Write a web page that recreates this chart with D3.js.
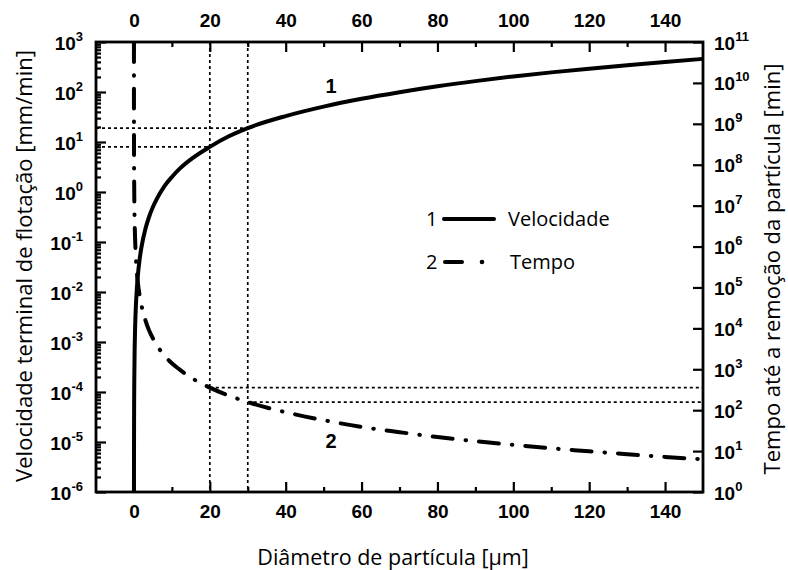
<!DOCTYPE html>
<html>
<head>
<meta charset="utf-8">
<script src="https://cdn.jsdelivr.net/npm/d3@7"></script>
<style>
  body { margin: 0; background: #fff; }
  svg { display: block; }
</style>
</head>
<body>
<svg id="chart" width="788" height="570"></svg>
<script>
// Particle diameter axis (µm)
const diameterDomain = [-10, 150];
const diameterMajorTicks = [0, 20, 40, 60, 80, 100, 120, 140];
const diameterMinorTicks = [10, 30, 50, 70, 90, 110, 130];

// Left axis: terminal flotation velocity (mm/min), log scale
const velocityDomain = [1e-6, 1e3];
const velocityExponents = [-6, -5, -4, -3, -2, -1, 0, 1, 2, 3];

// Right axis: time until particle removal (min), log scale
const timeDomain = [1, 1e11];
const timeExponents = [0, 1, 2, 3, 4, 5, 6, 7, 8, 9, 10, 11];

// Curve 1 — velocity vs. diameter
const velocityDiameter = [0.007, 0.01, 0.02, 0.05, 0.1, 0.2, 0.3, 0.5, 0.75, 1, 1.5, 2, 3, 4, 5, 6, 8, 10, 12, 15, 20, 25, 30, 40, 50, 60, 70, 80, 90, 100, 110, 120, 130, 140, 150];
const velocity = [1e-6, 2e-6, 8e-6, 5e-5, 2e-4, 8e-4, 1.8e-3, 5e-3, 1.1e-2, 0.02, 0.045, 0.08, 0.18, 0.32, 0.5, 0.72, 1.3, 2, 2.9, 4.5, 8, 13, 19, 33, 51, 73, 99, 130, 165, 205, 247, 293, 344, 398, 460];

// Curve 2 — removal time vs. diameter
const timeDiameter = [0.0012, 0.005, 0.01, 0.02, 0.05, 0.1, 0.2, 0.3, 0.5, 0.75, 1, 1.5, 2, 3, 4, 5, 6, 8, 10, 12, 15, 20, 25, 30, 40, 50, 60, 70, 80, 90, 100, 110, 120, 130, 140, 150];
const time = [1e11, 5.7e9, 1.4e9, 3.6e8, 5.7e7, 1.4e7, 3.6e6, 1.6e6, 5.7e5, 2.5e5, 1.4e5, 6.3e4, 3.6e4, 1.6e4, 8.9e3, 5.7e3, 3.9e3, 2.2e3, 1.4e3, 990, 630, 355, 227, 158, 89, 57, 39, 29, 22, 17.5, 14.2, 11.7, 9.9, 8.4, 7.2, 6.3];

// Reference diameters with their velocity and time readings
const guideDiameter = [20, 30];
const guideVelocity = [8, 19];
const guideTime = [355, 158];

// Texts
const xTitle = "Diâmetro de partícula [µm]";
const yLeftTitle = "Velocidade terminal de flotação [mm/min]";
const yRightTitle = "Tempo até a remoção da partícula [min]";
const legendNumbers = ["1", "2"];
const legendNames = ["Velocidade", "Tempo"];

const W = 788, H = 570;
const plot = { left: 96, right: 703, top: 42, bottom: 492 };

const svg = d3.select("#chart");
const tickFont = "'Liberation Sans', Arial, sans-serif";
const textFont = "'Open Sans', 'Noto Sans', sans-serif";

const x = d3.scaleLinear().domain(diameterDomain).range([plot.left, plot.right]);
const yL = d3.scaleLog().domain(velocityDomain).range([plot.bottom, plot.top]);
const yR = d3.scaleLog().domain(timeDomain).range([plot.bottom, plot.top]);

const isPow10 = v => Math.abs(Math.log10(v) - Math.round(Math.log10(v))) < 1e-9;
const leftMinor = yL.ticks().filter(v => !isPow10(v));
const rightMinor = yR.ticks().filter(v => !isPow10(v));

svg.append("defs").append("clipPath").attr("id", "plotClip")
  .append("rect")
  .attr("x", plot.left).attr("y", plot.top)
  .attr("width", plot.right - plot.left).attr("height", plot.bottom - plot.top);

// Guide lines (dotted)
const guides = svg.append("g")
  .attr("fill", "none").attr("stroke", "#000")
  .attr("stroke-width", 1.7).attr("stroke-dasharray", "3,3");
guideDiameter.forEach((d, i) => {
  guides.append("line")
    .attr("x1", x(d)).attr("x2", x(d))
    .attr("y1", plot.top).attr("y2", plot.bottom);
  guides.append("line")
    .attr("x1", plot.left).attr("x2", x(d))
    .attr("y1", yL(guideVelocity[i])).attr("y2", yL(guideVelocity[i]));
  guides.append("line")
    .attr("x1", x(d)).attr("x2", plot.right)
    .attr("y1", yR(guideTime[i])).attr("y2", yR(guideTime[i]));
});

// Curves
const curves = svg.append("g").attr("clip-path", "url(#plotClip)");
const velocityLine = d3.line()
  .x(d => x(d[0])).y(d => yL(d[1]))
  .curve(d3.curveMonotoneX);
const timeLine = d3.line()
  .x(d => x(d[0])).y(d => yR(d[1]))
  .curve(d3.curveMonotoneX);

curves.append("path")
  .datum(velocityDiameter.map((d, i) => [d, velocity[i]]))
  .attr("d", velocityLine)
  .attr("fill", "none").attr("stroke", "#000")
  .attr("stroke-width", 4).attr("stroke-linejoin", "round");

curves.append("path")
  .datum(timeDiameter.map((d, i) => [d, time[i]]))
  .attr("d", timeLine)
  .attr("fill", "none").attr("stroke", "#000")
  .attr("stroke-width", 4).attr("stroke-linecap", "round")
  .attr("stroke-dasharray", "20,13,0.5,13");

// Axes with inward ticks
function styleAxis(g) {
  g.select(".domain").remove();
  g.selectAll(".tick line").attr("stroke", "#000").attr("stroke-width", 2.2);
}

function supLabels(g, anchor) {
  g.selectAll(".tick text").each(function(v) {
    const t = d3.select(this);
    const e = Math.round(Math.log10(v));
    t.text(null)
      .attr("font-family", tickFont).attr("font-weight", "bold")
      .attr("font-size", 19).attr("fill", "#000")
      .attr("text-anchor", anchor).attr("dy", null).attr("y", 7);
    t.append("tspan").text("10");
    t.append("tspan").attr("dy", -9).attr("font-size", 13).text(String(e));
  });
}

// Bottom
svg.append("g").attr("transform", `translate(0,${plot.bottom})`)
  .call(d3.axisBottom(x).tickValues(diameterMinorTicks).tickSize(-5).tickFormat(""))
  .call(styleAxis);
svg.append("g").attr("transform", `translate(0,${plot.bottom})`)
  .call(d3.axisBottom(x).tickValues(diameterMajorTicks).tickSize(-10).tickPadding(0).tickFormat(d3.format("d")))
  .call(styleAxis)
  .call(g => g.selectAll(".tick text")
    .attr("font-family", tickFont).attr("font-weight", "bold").attr("font-size", 19)
    .attr("fill", "#000").attr("dy", null).attr("y", 26));

// Top
svg.append("g").attr("transform", `translate(0,${plot.top})`)
  .call(d3.axisTop(x).tickValues(diameterMinorTicks).tickSize(-5).tickFormat(""))
  .call(styleAxis);
svg.append("g").attr("transform", `translate(0,${plot.top})`)
  .call(d3.axisTop(x).tickValues(diameterMajorTicks).tickSize(-10).tickPadding(0).tickFormat(d3.format("d")))
  .call(styleAxis)
  .call(g => g.selectAll(".tick text")
    .attr("font-family", tickFont).attr("font-weight", "bold").attr("font-size", 19)
    .attr("fill", "#000").attr("dy", null).attr("y", -15));

// Left
svg.append("g").attr("transform", `translate(${plot.left},0)`)
  .call(d3.axisLeft(yL).tickValues(leftMinor).tickSize(-5).tickFormat(""))
  .call(styleAxis);
svg.append("g").attr("transform", `translate(${plot.left},0)`)
  .call(d3.axisLeft(yL).tickValues(velocityExponents.map(e => Math.pow(10, e))).tickSize(-10).tickFormat(d => d))
  .call(styleAxis)
  .call(g => supLabels(g, "end"))
  .call(g => g.selectAll(".tick text").attr("x", -13));

// Right
svg.append("g").attr("transform", `translate(${plot.right},0)`)
  .call(d3.axisRight(yR).tickValues(rightMinor).tickSize(-5).tickFormat(""))
  .call(styleAxis);
svg.append("g").attr("transform", `translate(${plot.right},0)`)
  .call(d3.axisRight(yR).tickValues(timeExponents.map(e => Math.pow(10, e))).tickSize(-10).tickFormat(d => d))
  .call(styleAxis)
  .call(g => supLabels(g, "start"))
  .call(g => g.selectAll(".tick text").attr("x", 11));

// Frame
svg.append("rect")
  .attr("x", plot.left).attr("y", plot.top)
  .attr("width", plot.right - plot.left).attr("height", plot.bottom - plot.top)
  .attr("fill", "none").attr("stroke", "#000").attr("stroke-width", 2.8);

// Curve numbers
svg.append("text").attr("x", 331).attr("y", 93)
  .attr("text-anchor", "middle").attr("font-family", tickFont)
  .attr("font-weight", "bold").attr("font-size", 20).text(legendNumbers[0]);
svg.append("text").attr("x", 331).attr("y", 448)
  .attr("text-anchor", "middle").attr("font-family", tickFont)
  .attr("font-weight", "bold").attr("font-size", 20).text(legendNumbers[1]);

// Legend
const legend = svg.append("g").attr("font-family", textFont).attr("font-size", 20).attr("fill", "#000");
legend.append("text").attr("x", 426).attr("y", 226).text(legendNumbers[0]);
legend.append("line").attr("x1", 444).attr("x2", 494).attr("y1", 219).attr("y2", 219)
  .attr("stroke", "#000").attr("stroke-width", 4).attr("stroke-linecap", "round");
legend.append("text").attr("x", 508).attr("y", 226).text(legendNames[0]);
legend.append("text").attr("x", 426).attr("y", 269).text(legendNumbers[1]);
legend.append("line").attr("x1", 445).attr("x2", 462).attr("y1", 262).attr("y2", 262)
  .attr("stroke", "#000").attr("stroke-width", 4).attr("stroke-linecap", "round");
legend.append("circle").attr("cx", 482).attr("cy", 262).attr("r", 2.3).attr("fill", "#000");
legend.append("text").attr("x", 510).attr("y", 269).text(legendNames[1]);

// Axis titles
svg.append("text").attr("x", 393).attr("y", 565)
  .attr("text-anchor", "middle").attr("font-family", textFont).attr("font-size", 21.5)
  .text(xTitle);
svg.append("text")
  .attr("transform", "translate(32,266) rotate(-90)")
  .attr("text-anchor", "middle").attr("font-family", textFont).attr("font-size", 22)
  .text(yLeftTitle);
svg.append("text")
  .attr("transform", "translate(780,269) rotate(-90)")
  .attr("text-anchor", "middle").attr("font-family", textFont).attr("font-size", 22)
  .text(yRightTitle);
</script>
</body>
</html>
